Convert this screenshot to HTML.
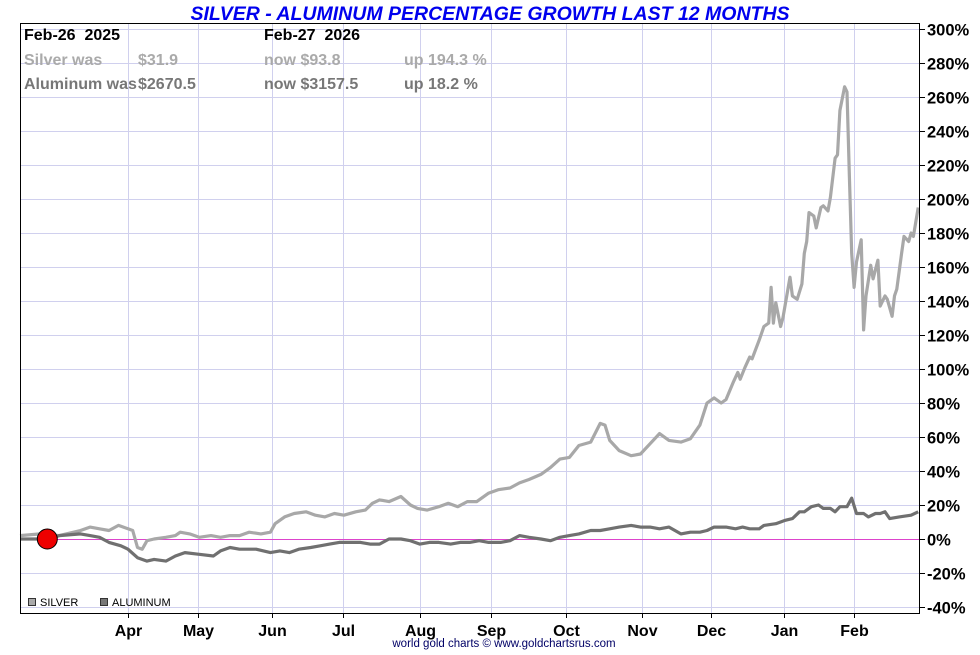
<!DOCTYPE html>
<html><head><meta charset="utf-8"><style>
body{margin:0;background:#fff;width:980px;height:650px;overflow:hidden;font-family:"Liberation Sans",sans-serif}
</style></head><body>
<svg id="chart" width="980" height="650" xmlns="http://www.w3.org/2000/svg" font-family="Liberation Sans, sans-serif">
<text x="490" y="20" text-anchor="middle" font-size="19.5" font-weight="bold" font-style="italic" fill="#0000ee">SILVER - ALUMINUM PERCENTAGE GROWTH LAST 12 MONTHS</text>
<g id="grid"></g>
<g id="series"></g>
<rect x="20.5" y="23.5" width="899" height="590" fill="none" stroke="#000" stroke-width="1"/>
<g id="axes"></g>
<g font-size="16" font-weight="bold">
<text x="24" y="40" fill="#000">Feb-26&#160; 2025</text>
<text x="264" y="40" fill="#000">Feb-27&#160; 2026</text>
<text x="24" y="65" fill="#aaa">Silver was</text>
<text x="138" y="65" fill="#aaa">$31.9</text>
<text x="264" y="65" fill="#aaa">now $93.8</text>
<text x="404" y="65" fill="#aaa">up 194.3 %</text>
<text x="24" y="89" fill="#777">Aluminum was</text>
<text x="138" y="89" fill="#777">$2670.5</text>
<text x="264" y="89" fill="#777">now $3157.5</text>
<text x="404" y="89" fill="#777">up 18.2 %</text>
</g>
<g font-size="11">
<rect x="28.5" y="598.5" width="7" height="7" fill="#aaa" stroke="#333"/>
<text x="40" y="606">SILVER</text>
<rect x="100.5" y="598.5" width="7" height="7" fill="#777" stroke="#333"/>
<text x="112" y="606">ALUMINUM</text>
</g>
<text x="504" y="647" text-anchor="middle" font-size="11.5" fill="#000066">world gold charts © www.goldchartsrus.com</text>
</svg>
<script>
const yTicks=[300,280,260,240,220,200,180,160,140,120,100,80,60,40,20,0,-20,-40];
const months=["Apr","May","Jun","Jul","Aug","Sep","Oct","Nov","Dec","Jan","Feb"];
const monthDays=[34,63.5,94.6,124.6,157,187,218.6,250.6,279.7,310.5,340];
const silverDays=[-12,-3,5,14,18,22,26,30,34,36,38,40,42,45,50,54,56,60,64,69,73,77,81,85,90,94,96,100,104,109,113,117,121,125,130,134,137,140,144,149,153,156,160,165,169,173,177,181,186,190,195,199,203,208,212,216,220,224,229,233,235,237,241,246,250,254,258,262,267,271,275,278,281,284,286,289,291,292,294,296,297,300,302,304,305,306,307,309,310,313,314,316,318,319,320,321,323,324,326,327,329,330,332,333,334,336,337,338,339,340,341,343,344,345,347,348,350,351,353,354,356,357,358,360,361,363,364,365,367];
const silverValues=[2,3,2,5,7,6,5,8,6,5,-5,-6,-1,0,1,2,4,3,1,2,1,2,2,4,3,4,9,13,15,16,14,13,15,14,16,17,21,23,22,25,20,18,17,19,21,19,22,22,27,29,30,33,35,38,42,47,48,55,57,68,67,58,52,49,50,56,62,58,57,59,67,80,83,80,82,92,98,94,101,107,106,117,125,127,148,127,139,125,130,154,143,141,150,168,175,192,190,183,195,196,193,201,224,226,252,266,263,213,168,148,163,176,123,143,161,153,164,137,143,141,131,143,147,168,178,175,180,178,195];
const alDays=[-12,-3,3,5,14,18,22,26,31,34,38,42,45,50,54,58,64,70,73,77,81,88,94,98,102,106,111,115,119,123,128,132,136,140,144,149,153,157,161,165,170,174,178,182,186,191,195,199,203,208,212,216,220,224,229,233,237,241,246,250,254,258,262,267,271,275,278,281,284,286,290,293,296,300,302,307,309,311,314,317,319,322,325,327,330,332,334,337,339,341,344,346,349,351,353,355,359,364,367];
const alValues=[0,0,1,2,3,2,1,-2,-4,-6,-11,-13,-12,-13,-10,-8,-9,-10,-7,-5,-6,-6,-8,-7,-8,-6,-5,-4,-3,-2,-2,-2,-3,-3,0,0,-1,-3,-2,-2,-3,-2,-2,-1,-2,-2,-1,2,1,0,-1,1,2,3,5,5,6,7,8,7,7,6,7,3,4,4,5,7,7,7,6,7,6,6,8,9,10,11,12,16,16,19,20,18,18,16,19,19,24,15,15,13,15,15,16,12,13,14,16,18];
const NS="http://www.w3.org/2000/svg";
const X=d=>47.3+2.373*d;
const Y=v=>539-1.7*v;
const grid=document.getElementById('grid'),axes=document.getElementById('axes'),ser=document.getElementById('series');
function mk(t,a,p){const e=document.createElementNS(NS,t);for(const k in a)e.setAttribute(k,a[k]);p.appendChild(e);return e;}
yTicks.forEach(v=>{
 const y=Math.round(Y(v))+0.5;
 if(v!==0){const l=mk('line',{x1:20,x2:920,y1:y,y2:y,stroke:'#d0d0ee','stroke-width':1},grid);
 
 }
 const t=mk('line',{x1:920,x2:925,y1:y,y2:y,stroke:'#000'},axes);
 
 
 const tx=mk('text',{x:927,y:y+6,'font-size':16.5,'font-weight':'bold'},axes);tx.textContent=v+'%';
 
 
});
monthDays.forEach((d,i)=>{
 const x=Math.round(X(d))+0.5;
 const l=mk('line',{x1:x,x2:x,y1:23,y2:613,stroke:'#d0d0ee'},grid);
 
 
 const t=mk('line',{x1:x,x2:x,y1:613,y2:618,stroke:'#000'},axes);
 
 
 const tx=mk('text',{x:x,y:636,'font-size':16,'font-weight':'bold','text-anchor':'middle'},axes);tx.textContent=months[i];
 
 
});
const z=mk('line',{x1:20,x2:920,y1:Y(0)+0.5,y2:Y(0)+0.5,stroke:'#dd44cc','stroke-width':1},ser);


function path(days,vals){return days.map((d,i)=>(i?'L':'M')+Math.max(20,Math.min(919,X(d))).toFixed(1)+' '+Y(vals[i]).toFixed(1)).join(' ');}
const ps=mk('path',{d:path(silverDays,silverValues),fill:'none',stroke:'#a8a8a8','stroke-width':3.2,'stroke-linejoin':'round'},ser);


const pa=mk('path',{d:path(alDays,alValues),fill:'none',stroke:'#707070','stroke-width':3.2,'stroke-linejoin':'round'},ser);


const dot=mk('circle',{cx:X(0),cy:Y(0),r:10,fill:'#ee0000',stroke:'#000','stroke-width':1},ser);


</script>
</body></html>
